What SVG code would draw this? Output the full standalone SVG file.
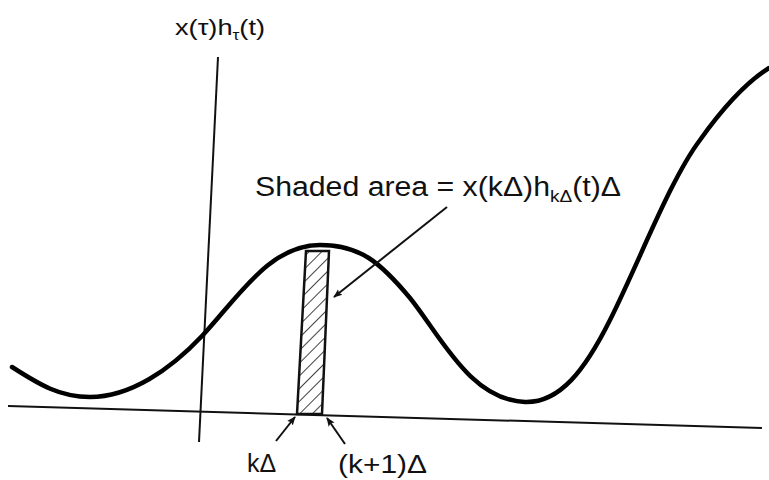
<svg xmlns="http://www.w3.org/2000/svg" width="769" height="480" viewBox="0 0 769 480">
<defs>
<style>
.ax{stroke:#111;stroke-width:2;fill:none}
.cv{stroke:#000;stroke-width:4.5;fill:none;stroke-linecap:round}
.ptr{stroke:#111;stroke-width:2;fill:none}
.t{font-family:"Liberation Sans",Arial,sans-serif;fill:#111}
</style>
<marker id="ah" viewBox="0 0 10 10" refX="9" refY="5" markerWidth="9" markerHeight="9" orient="auto" markerUnits="userSpaceOnUse">
<path d="M0,1 L10,5 L0,9 L2,5 Z" fill="#111"/>
</marker>
<pattern id="hatch" patternUnits="userSpaceOnUse" width="9" height="9" patternTransform="rotate(45)">
<line x1="0" y1="0" x2="0" y2="9" stroke="#111" stroke-width="1.6"/>
</pattern>
</defs>
<rect width="769" height="480" fill="#fff"/>
<g id="axes">
<line class="ax" x1="8" y1="406" x2="762" y2="428"/>
<line class="ax" x1="218" y1="57" x2="199" y2="442"/>
</g>
<g id="curve">
<path class="cv" d="M12,367 C40,385 60,397 90,397 C130,397 170,370 202,336 C240,295 270,245 320,245 C360,245 380,262 410,298 C440,335 470,400 525,402 C560,403 585,370 610,320 C640,260 670,180 700,140 C725,105 750,80 769,68"/>
</g>
<g id="strip">
<polygon points="306,251 329,251 322,414 297,414" fill="url(#hatch)" stroke="#111" stroke-width="2.5"/>
</g>
<g id="connectors">
<line class="ptr" x1="447" y1="207" x2="334" y2="297" marker-end="url(#ah)"/>
<line class="ptr" x1="276" y1="441" x2="295" y2="417" marker-end="url(#ah)"/>
<line class="ptr" x1="345" y1="444" x2="327" y2="418" marker-end="url(#ah)"/>
</g>
<g id="labels">
<text class="t" x="175" y="35" font-size="22" textLength="90" lengthAdjust="spacingAndGlyphs">x(τ)h<tspan font-size="14" dy="5">τ</tspan><tspan dy="-5">(t)</tspan></text>
<text class="t" x="255" y="196" font-size="27" textLength="366" lengthAdjust="spacingAndGlyphs">Shaded area = x(kΔ)h<tspan font-size="17" dy="6">kΔ</tspan><tspan dy="-6">(t)Δ</tspan></text>
<text class="t" x="247" y="472" font-size="25">kΔ</text>
<text class="t" x="338" y="473" font-size="25" textLength="89" lengthAdjust="spacingAndGlyphs">(k+1)Δ</text>
</g>
</svg>
